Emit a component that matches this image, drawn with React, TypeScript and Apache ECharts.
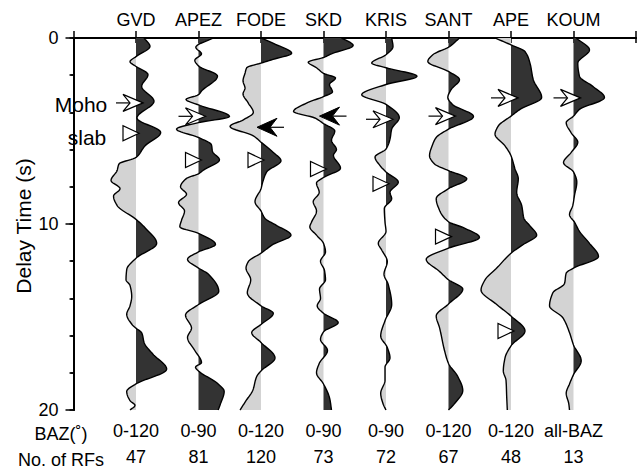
import React, { useEffect, useRef } from "react";
import * as echarts from "echarts";

const FONT = "'Liberation Sans', Arial, Helvetica, sans-serif";

const stations = ["GVD", "APEZ", "FODE", "SKD", "KRIS", "SANT", "APE", "KOUM"];
const bazRanges = ["0-120", "0-90", "0-120", "0-90", "0-90", "0-120", "0-120", "all-BAZ"];
const rfCounts = [47, 81, 120, 73, 72, 67, 48, 13];
const yTicks = [0, 10, 20];

// Receiver-function traces: [delay time (s), amplitude]
const gvd = [[0, 8], [0.45, 14], [1.0, 0], [1.27, -6], [1.53, 0], [1.97, 12], [2.6, 5.7], [3.4, 18], [4.3, 1], [5.08, 24.7], [5.8, 9], [6.42, 0], [6.77, -17], [7.13, -19], [7.66, -25], [8.1, -16], [8.5, -22.5], [9.0, -19], [9.75, 0], [10.2, 9], [11.04, 20.7], [11.84, 0], [12.45, -9.3], [13.0, -10], [13.3, -6], [13.9, -4.3], [14.4, -6], [14.85, -9.3], [15.4, -4], [15.6, 0], [15.85, 5.7], [16.4, 8.3], [17.0, 17], [17.8, 30.7], [18.6, 0], [19.0, -9.3], [19.5, -6], [19.75, -1], [20, -6]];
const apez = [[0, 14.7], [0.5, -2.7], [0.85, 3], [1.2, -3.7], [1.5, 0], [2.05, 19], [2.85, 3], [3.05, 0], [3.3, -12.5], [3.6, 0], [4.22, 31], [4.55, 0], [4.9, -22], [5.35, 0], [5.75, 13], [6.1, 14], [6.55, 21], [7.1, 5], [7.3, 0], [7.55, -12], [8.0, -18], [8.4, -12], [8.85, -20], [9.3, -14], [9.8, -17], [10.15, -18.7], [10.5, 0], [11.1, 17], [11.5, 0], [11.9, -11], [12.37, 0], [12.7, 10], [13.62, 20.3], [14.33, 0], [14.9, -13], [15.6, -7], [16.1, -11], [16.8, -3.7], [17.45, 3], [17.7, -3], [17.9, 0], [18.6, 19.7], [19.0, 25.7], [19.67, 22], [20, 19.7]];
const fode = [[0, 0], [0.35, 15], [0.82, 30.7], [1.15, 12], [1.35, 0], [1.6, -14.3], [1.9, -16], [2.3, -18], [2.7, -16], [3.0, -18], [3.5, -12.7], [4.0, -7.7], [4.4, -17.7], [4.75, -31], [5.26, -7.7], [5.6, 0], [6.15, 12.3], [6.6, 20], [7.2, 5.7], [7.75, 1.7], [8.1, 0], [8.8, -6], [9.3, 0], [9.7, 4], [10.06, 15], [10.6, 30], [11.1, 12], [11.57, 0], [12.02, -12.7], [12.37, -15], [13.0, -10.3], [13.7, -13.7], [14.4, 0], [14.8, 12.3], [15.4, 0], [15.84, -9.3], [16.37, 0], [17.2, 14], [17.9, 0], [18.2, -4.3], [18.95, -8.3], [19.5, -15], [20, -21]];
const skd = [[0, 18], [0.4, 29.7], [0.85, 8], [1.05, 0], [1.3, -15.3], [1.6, -7], [1.9, 0], [2.15, 12], [2.5, 6], [2.9, 9], [3.15, 0], [3.5, -17], [3.95, -30], [4.3, -8.7], [4.6, 0], [5.0, 11.3], [5.5, 8], [6.0, 13], [6.3, 10], [7.0, 17], [7.5, 0], [7.8, -7], [8.3, -4.3], [8.8, -10.3], [9.3, -7], [9.9, -12], [10.15, -13.7], [10.6, -7], [11.04, 0], [11.5, 2], [12.0, -3], [12.5, 1], [13.0, 2], [13.5, -4], [14.0, -3], [14.4, -6.3], [14.8, 0], [15.3, 14.7], [15.8, 0], [16.2, -3], [16.8, 4], [17.5, -4.3], [18.0, -7], [18.6, 0], [19.4, 6.3], [20, 8]];
const kris = [[0, 5.7], [0.46, 7], [0.9, 0], [1.35, -14.3], [1.6, 0], [2.06, 31], [2.5, 0], [3.05, -24.3], [3.57, 0], [4.28, 13.3], [4.9, 5.7], [5.44, 4], [5.97, 0], [6.4, -11], [6.86, -6], [7.2, 0], [7.75, 12.3], [8.3, 4], [8.64, 5.7], [9.17, -1.7], [9.9, -1], [10.4, 0], [11.04, -7.7], [11.4, -4.3], [12.02, 1.3], [12.7, -2], [13.26, 2.3], [14.33, 5.7], [15.2, -1], [16.02, -5.3], [16.64, 1.3], [17.2, 4], [17.7, -1], [18.4, -1], [19.1, -5.3], [19.7, -2.7], [20, 0]];
const sant = [[0, 11], [0.46, 1], [0.9, -15.7], [1.26, -20.7], [1.8, 0], [2.24, 11], [2.77, 2.7], [3.2, -0.7], [3.57, 4], [4.22, 25], [4.9, 0], [5.35, -12.3], [5.7, -15.7], [6.33, -19], [6.77, -14], [7.13, 0], [7.57, 18.3], [8.1, 0], [8.64, -12.3], [9.26, -9], [9.88, 0], [10.2, 15], [10.72, 31], [11.3, 0], [11.9, -22.3], [12.55, -9], [13.0, 0], [13.5, 14.3], [14.3, 0], [14.95, -12.3], [15.57, -9], [16.8, -4], [17.5, 0], [18.2, 9.3], [18.95, 14.3], [19.66, 6], [20, 0]];
const ape = [[0, -16], [0.37, 0], [0.73, 14], [1.35, 19], [2.24, 22.3], [3.2, 30.7], [3.84, 9], [4.2, 0], [4.73, -12.7], [5.17, -16], [5.8, -6], [6.33, 0], [7.04, 4], [7.57, 7.3], [8.3, 5.7], [9.0, 10.7], [9.7, 13], [10.1, 19], [10.6, 25.7], [11.1, 12.3], [11.57, 0], [12.37, -14.3], [13.0, -26], [13.55, -30], [14.33, -14.3], [14.95, 0], [15.75, 14], [16.55, 0], [17.2, -6], [17.9, -7.7], [18.4, -5], [19.3, -4.3], [20, -3.7]];
const koum = [[0, 2.7], [0.64, 16], [1.35, 4.3], [2.06, 6], [2.6, 19.3], [3.2, 31], [3.84, 6], [4.2, 0], [4.55, -7.3], [5.1, -2.3], [5.6, 4.3], [6.15, -2.3], [6.7, -10], [7.2, 0], [7.75, 3.3], [8.46, 1], [9.0, -0.7], [9.5, -4], [9.9, 1], [10.4, 6], [11.04, 16], [11.75, 25], [12.37, 0], [12.64, -7.3], [13.2, -9], [13.7, -20.7], [14.4, -24], [15.04, -10.7], [15.84, -4], [16.5, 0], [17.35, 7.7], [18.1, 0], [18.6, -4], [19.1, -7.3], [19.67, -4.7], [20, -4]];
const traces = [gvd, apez, fode, skd, kris, sant, ape, koum];

// Phase markers: station number, delay time, kind
const markerStation = [1, 1, 2, 2, 3, 3, 4, 4, 5, 5, 6, 6, 7, 7, 8];
const markerTime = [3.49, 5.12, 4.21, 6.56, 4.8, 6.56, 4.2, 7.04, 4.37, 7.84, 4.2, 10.68, 3.22, 15.75, 3.22];
const markerKind = ["open", "tri", "open", "tri", "black", "tri", "black", "tri", "open", "tri", "open", "tri", "open", "tri", "open"];

const AMP = 1 / 62.6; // amplitude units -> station spacing

function densify(pts: number[][], step: number) {
  const n = pts.length;
  const xs = pts.map((p) => p[0]);
  const ys = pts.map((p) => p[1]);
  const h: number[] = [];
  const d: number[] = [];
  for (let i = 0; i < n - 1; i++) {
    h[i] = xs[i + 1] - xs[i];
    d[i] = (ys[i + 1] - ys[i]) / h[i];
  }
  const m = new Array(n).fill(0);
  m[0] = d[0];
  m[n - 1] = d[n - 2];
  for (let i = 1; i < n - 1; i++) {
    if (d[i - 1] * d[i] > 0) {
      const w1 = 2 * h[i] + h[i - 1];
      const w2 = h[i] + 2 * h[i - 1];
      m[i] = (w1 + w2) / (w1 / d[i - 1] + w2 / d[i]);
    } else m[i] = 0;
  }
  const out: number[][] = [];
  for (let i = 0; i < n - 1; i++) {
    const steps = Math.max(1, Math.ceil(h[i] / step));
    for (let k = 0; k < steps; k++) {
      const s = k / steps;
      const t = xs[i] + s * h[i];
      const s2 = s * s;
      const s3 = s2 * s;
      const v =
        (2 * s3 - 3 * s2 + 1) * ys[i] +
        (s3 - 2 * s2 + s) * h[i] * m[i] +
        (-2 * s3 + 3 * s2) * ys[i + 1] +
        (s3 - s2) * h[i] * m[i + 1];
      out.push([t, v]);
    }
  }
  out.push([xs[n - 1], ys[n - 1]]);
  return out;
}

export default function App() {
  const ref = useRef<HTMLDivElement>(null);
  useEffect(() => {
    if (!ref.current) return;
    const chart = echarts.init(ref.current, undefined, { renderer: "svg" });
    const axisLine = { show: true, lineStyle: { color: "#000", width: 2 } };
    const option: any = {
      animation: false,
      textStyle: { fontFamily: FONT },
      grid: { left: 73.5, right: 2, top: 38, bottom: 57, containLabel: false },
      xAxis: [
        {
          type: "value", position: "top", min: 0, max: 9, interval: 1,
          axisLine, splitLine: { show: false },
          axisTick: { show: true, length: 7, lineStyle: { color: "#000", width: 1.5 } },
          axisLabel: {
            show: true, showMinLabel: true, showMaxLabel: true, margin: 9,
            color: "#000", fontSize: 18, fontFamily: FONT,
            formatter: (v: number) => (v >= 1 && v <= 8 ? stations[Math.round(v) - 1] : ""),
          },
        },
        {
          type: "value", position: "bottom", min: 0, max: 9, interval: 1,
          axisLine, splitLine: { show: false },
          axisTick: { show: true, length: 5, lineStyle: { color: "#000", width: 1.5 } },
          axisLabel: {
            show: true, showMinLabel: true, showMaxLabel: true, margin: 8,
            color: "#000", fontSize: 18, lineHeight: 26, fontFamily: FONT,
            formatter: (v: number) =>
              v >= 1 && v <= 8 ? `${bazRanges[Math.round(v) - 1]}\n${rfCounts[Math.round(v) - 1]}` : "",
          },
        },
      ],
      yAxis: [
        {
          type: "value", position: "left", inverse: true, min: 0, max: 20, interval: 10,
          axisLine, splitLine: { show: false },
          axisTick: { show: true, length: 8, lineStyle: { color: "#000", width: 1.5 } },
          minorTick: { show: true, splitNumber: 5, length: 3, lineStyle: { color: "#000", width: 1.5 } },
          axisLabel: {
            show: true, showMinLabel: true, showMaxLabel: true, margin: 15,
            color: "#000", fontSize: 18, fontFamily: FONT,
            formatter: (v: number) => (yTicks.includes(v) ? String(v) : ""),
          },
        },
        {
          type: "value", position: "right", inverse: true, min: 0, max: 20, interval: 2,
          axisLine, splitLine: { show: false },
          axisTick: { show: true, inside: true, length: 4, lineStyle: { color: "#000", width: 1.5 } },
          axisLabel: { show: false },
        },
      ],
      graphic: [
        { type: "text", x: 23, y: 226, rotation: Math.PI / 2, style: { text: "Delay Time (s)", fill: "#000", font: `21px ${FONT}`, align: "center", verticalAlign: "middle" } },
        { type: "text", x: 81, y: 104, z: 100, style: { text: "Moho", fill: "#000", font: `21px ${FONT}`, align: "center", verticalAlign: "middle" } },
        { type: "text", x: 87, y: 137, z: 100, style: { text: "slab", fill: "#000", font: `21px ${FONT}`, align: "center", verticalAlign: "middle" } },
        { type: "text", x: 61, y: 434, style: { text: "BAZ(˚)", fill: "#000", font: `18px ${FONT}`, align: "center", verticalAlign: "middle" } },
        { type: "text", x: 61, y: 460, style: { text: "No. of RFs", fill: "#000", font: `18px ${FONT}`, align: "center", verticalAlign: "middle" } },
      ],
      series: [
        {
          type: "custom",
          coordinateSystem: "cartesian2d",
          xAxisIndex: 0,
          yAxisIndex: 0,
          data: stations.map((_, i) => [i + 1, 0]),
          renderItem: (params: any, api: any) => {
            const st = api.value(0);
            const tr = traces[st - 1];
            const pts = densify(tr, 0.04);
            const seq: number[][] = [];
            for (let i = 0; i < pts.length; i++) {
              if (i > 0 && pts[i - 1][1] * pts[i][1] < 0) {
                const [t0, a0] = pts[i - 1];
                const [t1, a1] = pts[i];
                seq.push([t0 + ((t1 - t0) * a0) / (a0 - a1), 0]);
              }
              seq.push(pts[i]);
            }
            const tStart = seq[0][0];
            const tEnd = seq[seq.length - 1][0];
            const line = seq.map(([t, a]) => api.coord([st + a * AMP, t]));
            const pos = seq.map(([t, a]) => api.coord([st + Math.max(a, 0) * AMP, t]));
            const neg = seq.map(([t, a]) => api.coord([st + Math.min(a, 0) * AMP, t]));
            const closeEnd = api.coord([st, tEnd]);
            const closeStart = api.coord([st, tStart]);
            pos.push(closeEnd, closeStart);
            neg.push(closeEnd, closeStart);
            return {
              type: "group",
              children: [
                { type: "polygon", shape: { points: neg }, style: { fill: "#d3d3d3", stroke: "none" } },
                { type: "polygon", shape: { points: pos }, style: { fill: "#333333", stroke: "none" } },
                { type: "polyline", shape: { points: line }, style: { stroke: "#000", lineWidth: 1.4, fill: "none" } },
              ],
            };
          },
        },
        {
          type: "custom",
          coordinateSystem: "cartesian2d",
          xAxisIndex: 0,
          yAxisIndex: 0,
          z: 5,
          data: markerStation.map((s, i) => [s, markerTime[i], i]),
          renderItem: (params: any, api: any) => {
            const p = api.coord([api.value(0), api.value(1)]);
            const x = p[0];
            const y = p[1];
            const kind = markerKind[api.value(2)];
            if (kind === "tri") {
              const tx = x + 3;
              return { type: "polygon", shape: { points: [[tx, y], [tx - 16, y - 7.5], [tx - 16, y + 7.5]] }, style: { fill: "#fff", stroke: "#000", lineWidth: 1.2 } };
            }
            if (kind === "open") {
              const tx = x + 7;
              return {
                type: "group",
                children: [
                  { type: "line", shape: { x1: tx - 27, y1: y, x2: tx - 13, y2: y }, style: { stroke: "#000", lineWidth: 1.2 } },
                  { type: "polygon", shape: { points: [[tx, y], [tx - 20, y - 8.5], [tx - 13, y], [tx - 20, y + 8.5]] }, style: { fill: "#fff", stroke: "#000", lineWidth: 1.2 } },
                ],
              };
            }
            const tx = x - 4;
            return {
              type: "group",
              children: [
                { type: "line", shape: { x1: tx + 13, y1: y, x2: tx + 27, y2: y }, style: { stroke: "#000", lineWidth: 1.2 } },
                { type: "polygon", shape: { points: [[tx, y], [tx + 20, y - 9], [tx + 13, y], [tx + 20, y + 9]] }, style: { fill: "#000", stroke: "#000", lineWidth: 1 } },
              ],
            };
          },
        },
      ],
    };
    chart.setOption(option);
    return () => chart.dispose();
  }, []);
  return <div ref={ref} style={{ position: "absolute", left: 0, top: 0, width: 639, height: 470 }} />;
}
